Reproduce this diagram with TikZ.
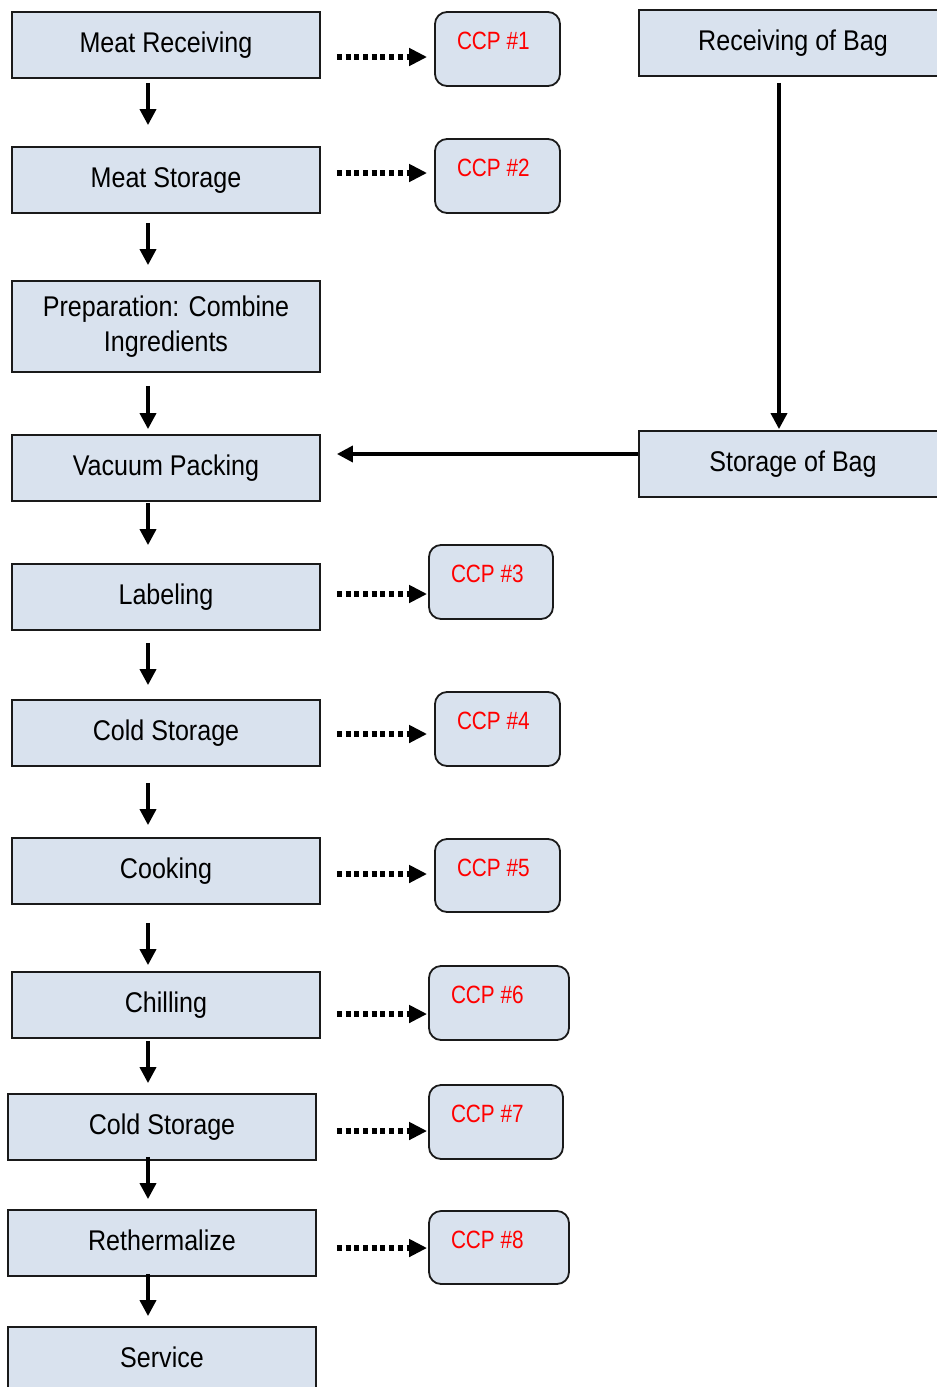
\documentclass[tikz,border=0pt]{standalone}
\usepackage{fontspec}
\setmainfont{Liberation Sans}[FakeStretch=0.88]
\newfontfamily\ccpfont{Liberation Sans}[FakeStretch=0.83]
\usetikzlibrary{arrows.meta,calc}
\definecolor{boxfill}{HTML}{D9E2EE}
\definecolor{boxline}{HTML}{1A1A1A}
\definecolor{ccpred}{HTML}{FF0000}
\newcommand{\ccp}[1]{CCP\hspace{-2.5pt} \##1}
\begin{document}
\begin{tikzpicture}[x=1pt,y=-1pt,
  stepbox/.style={draw=boxline,line width=1.8pt,fill=boxfill,minimum width=308pt,minimum height=66pt,
    inner sep=0pt,align=center,font=\fontsize{28.5}{35}\selectfont},
  oneline/.style={text height=20.5pt,text depth=6pt},
  ccpbox/.style={draw=boxline,line width=1.8pt,fill=boxfill,rounded corners=12pt,inner ysep=0pt,
    inner xsep=22pt,align=left,text=ccpred,font=\ccpfont\fontsize{25}{30}\selectfont,
    text height=37pt},
  arr/.style={line width=3.6pt,-{Triangle[length=16pt,width=16pt]}},
  dotarr/.style={line width=5.5pt,dash pattern=on 5pt off 3.7pt,-{Triangle[length=18pt,width=17pt]}}]
\useasboundingbox (0,0) rectangle (937,1387);
\clip (0,0) rectangle (937,1387);
% left column
\node[stepbox,oneline] (mr) at (166,45) {Meat Receiving};
\node[stepbox,oneline] (ms) at (166,180) {Meat Storage};
\node[stepbox,minimum height=91pt] (prep) at (166,326.5) {Preparation: Combine\\Ingredients};
\node[stepbox,oneline] (vp) at (166,468) {Vacuum Packing};
\node[stepbox,oneline] (lab) at (166,597) {Labeling};
\node[stepbox,oneline] (cs1) at (166,733) {Cold Storage};
\node[stepbox,oneline] (cook) at (166,871) {Cooking};
\node[stepbox,oneline] (chill) at (166,1005) {Chilling};
\node[stepbox,oneline] (cs2) at (162,1127) {Cold Storage};
\node[stepbox,oneline] (reth) at (162,1243) {Rethermalize};
\node[stepbox,oneline] (serv) at (162,1360) {Service};
% right column
\node[stepbox,oneline] (rb) at (793,43) {Receiving of Bag};
\node[stepbox,oneline] (sb) at (793,464) {Storage of Bag};
% CCP boxes
\node[ccpbox,text width=81pt,text depth=37pt] (c1) at (497.5,49) {\ccp{1}};
\node[ccpbox,text width=81pt,text depth=37pt] (c2) at (497.5,176) {\ccp{2}};
\node[ccpbox,text width=80pt,text depth=37pt] (c3) at (491,582) {\ccp{3}};
\node[ccpbox,text width=81pt,text depth=37pt] (c4) at (497.5,729) {\ccp{4}};
\node[ccpbox,text width=81pt,text depth=36pt] (c5) at (497.5,875.5) {\ccp{5}};
\node[ccpbox,text width=96pt,text depth=37pt] (c6) at (499,1003) {\ccp{6}};
\node[ccpbox,text width=90pt,text depth=37pt] (c7) at (496,1122) {\ccp{7}};
\node[ccpbox,text width=96pt,text depth=36pt] (c8) at (499,1247.5) {\ccp{8}};
% axes
\coordinate (axL) at (148,0);
\coordinate (axR) at (779,0);
% vertical arrows
\draw[arr,shorten <=4pt,shorten >=21pt] (mr.south -| axL) -- (ms.north -| axL);
\draw[arr,shorten <=9pt,shorten >=15pt] (ms.south -| axL) -- (prep.north -| axL);
\draw[arr,shorten <=13pt,shorten >=5pt] (prep.south -| axL) -- (vp.north -| axL);
\draw[arr,shorten <=1pt,shorten >=18pt] (vp.south -| axL) -- (lab.north -| axL);
\draw[arr,shorten <=12pt,shorten >=14pt] (lab.south -| axL) -- (cs1.north -| axL);
\draw[arr,shorten <=16pt,shorten >=12pt] (cs1.south -| axL) -- (cook.north -| axL);
\draw[arr,shorten <=18pt,shorten >=6pt] (cook.south -| axL) -- (chill.north -| axL);
\draw[arr,shorten <=2pt,shorten >=10pt] (chill.south -| axL) -- (cs2.north -| axL);
\draw[arr,shorten <=-4pt,shorten >=10pt] (cs2.south -| axL) -- (reth.north -| axL);
\draw[arr,shorten <=-3pt,shorten >=10pt] (reth.south -| axL) -- (serv.north -| axL);
% right arrows
\draw[arr,shorten <=6pt,shorten >=1pt] (rb.south -| axR) -- (sb.north -| axR);
\draw[arr,shorten >=16pt] ($(sb.west)+(0,-10)$) -- ($(sb.west -| vp.east)+(0,-10)$);
% dotted arrows
\draw[dotarr,shorten >=7pt] ($(c1.west -| mr.east)+(16,8)$) -- ($(c1.west)+(0,8)$);
\draw[dotarr,shorten >=7pt] ($(c2.west -| ms.east)+(16,-3)$) -- ($(c2.west)+(0,-3)$);
\draw[dotarr,shorten >=1pt] ($(c3.west -| lab.east)+(16,12)$) -- ($(c3.west)+(0,12)$);
\draw[dotarr,shorten >=7pt] ($(c4.west -| cs1.east)+(16,5)$) -- ($(c4.west)+(0,5)$);
\draw[dotarr,shorten >=7pt] ($(c5.west -| cook.east)+(16,-1.5)$) -- ($(c5.west)+(0,-1.5)$);
\draw[dotarr,shorten >=1pt] ($(c6.west -| chill.east)+(16,11)$) -- ($(c6.west)+(0,11)$);
\draw[dotarr,shorten >=1pt] ($(c7.west -| chill.east)+(16,9)$) -- ($(c7.west)+(0,9)$);
\draw[dotarr,shorten >=1pt] ($(c8.west -| chill.east)+(16,0.5)$) -- ($(c8.west)+(0,0.5)$);
\end{tikzpicture}
\end{document}
